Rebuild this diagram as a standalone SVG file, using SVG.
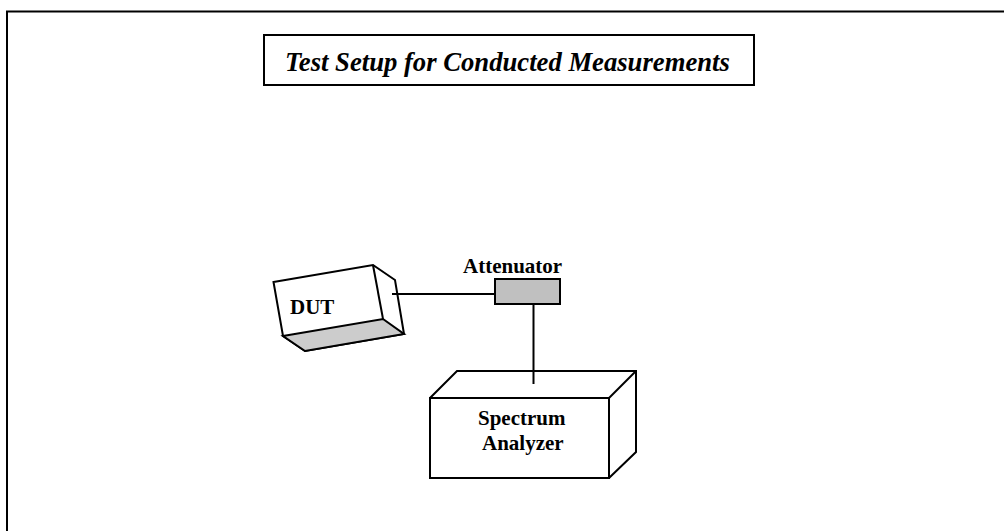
<svg xmlns="http://www.w3.org/2000/svg" width="1004" height="531" viewBox="0 0 1004 531">
<style>
.l{fill:none;stroke:#000;stroke-width:2;stroke-linejoin:miter}
.w{fill:#fff;stroke:#000;stroke-width:2}
.g{fill:#c0c0c0;stroke:#000;stroke-width:2}
.d{fill:#ccc;stroke:#000;stroke-width:2}
text{font-family:"Liberation Serif","Times New Roman",serif;font-weight:bold;font-size:21px;fill:#000}
.t{font-style:italic;font-size:26.67px}
</style>
<rect width="1004" height="531" fill="#fff"/>
<path id="frame" class="l" d="M7 531V11.500H1004"/>
<g id="title">
<rect class="w" x="264" y="35" width="490" height="50"/>
<text class="t" x="285" y="71">Test Setup for Conducted Measurements</text>
</g>
<g id="dut">
<path class="w" d="M273.500 282L373 265L395 280L404 334L305 351L283 336Z"/>
<path class="d" d="M283 336L383 319L404 334L305 351Z"/>
<path class="l" d="M373 265L383 319"/>
<text x="290" y="314">DUT</text>
</g>
<g id="attenuator">
<rect class="g" x="495" y="279" width="65" height="25"/>
<text x="463" y="273">Attenuator</text>
</g>
<g id="analyzer">
<path class="l" d="M430 398L457 371H636V452L609 478"/>
<path class="l" d="M609 398L636 371"/>
<rect class="l" x="430" y="398" width="179" height="80"/>
<text x="478" y="425">Spectrum</text>
<text x="482" y="450">Analyzer</text>
</g>
<g id="connectors">
<path class="l" d="M392 294H495"/>
<path class="l" d="M533.500 304V384"/>
</g>
</svg>
